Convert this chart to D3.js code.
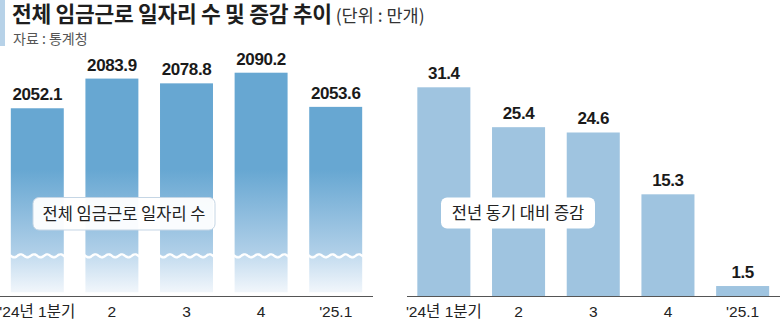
<!DOCTYPE html>
<html><head><meta charset="utf-8">
<script src="https://cdn.jsdelivr.net/npm/d3@7"></script>
<style>
body{margin:0;background:#fff;}
svg{display:block;}
</style></head>
<body>
<svg id="c" width="780" height="323"></svg>
<script>
// ---- data ----
const categories = ["'24년 1분기", "2", "3", "4", "'25.1"];
const totalJobs = [2052.1, 2083.9, 2078.8, 2090.2, 2053.6];   // 만개
const yoyChange = [31.4, 25.4, 24.6, 15.3, 1.5];              // 만개
const titleText = "전체 임금근로 일자리 수 및 증감 추이";
const unitText = "(단위 : 만개)";
const sourceText = "자료 : 통계청";
const leftLabel = "전체 임금근로 일자리 수";
const rightLabel = "전년 동기 대비 증감";

const svg = d3.select("#c");
const numFont = "'Liberation Sans', Arial, sans-serif";
const krFont = "'Noto Sans CJK KR', 'Noto Sans', sans-serif";
const tickFont = "'Liberation Sans Narrow', 'Liberation Sans', 'Noto Sans CJK KR', sans-serif";

// ---- header ----
svg.append("rect").attr("x",0).attr("y",0).attr("width",5).attr("height",46).attr("fill","#b7d2e8");
const t = svg.append("text").attr("x",12).attr("y",21.5)
  .attr("font-family",krFont).attr("fill","#1e1e1e");
t.append("tspan").attr("font-size",21.5).attr("font-weight",700).attr("letter-spacing",-0.3).text(titleText);
t.append("tspan").attr("font-size",17.5).attr("font-weight",400).attr("dx",4).attr("fill","#333").text(unitText);
svg.append("text").attr("x",13).attr("y",44).attr("font-family",krFont)
  .attr("font-size",14).attr("fill","#555").text(sourceText);

// ---- gradients ----
const defs = svg.append("defs");
const baseY = 296;
const gUp = defs.append("linearGradient").attr("id","gUp")
  .attr("gradientUnits","userSpaceOnUse").attr("x1",0).attr("x2",0).attr("y1",170).attr("y2",256);
gUp.append("stop").attr("offset",0).attr("stop-color","#67a7d2");
gUp.append("stop").attr("offset",1).attr("stop-color","#b3d1e9");
const gLow = defs.append("linearGradient").attr("id","gLow")
  .attr("gradientUnits","userSpaceOnUse").attr("x1",0).attr("x2",0).attr("y1",256).attr("y2",292);
gLow.append("stop").attr("offset",0).attr("stop-color","#c4dcef");
gLow.append("stop").attr("offset",1).attr("stop-color","#f1f6fb");

// ---- left chart ----
const xL = d3.scaleBand().domain(categories).range([0,373]).paddingInner(0.29).paddingOuter(0.145);
const yL = d3.scaleLinear().domain([1851, 2090.2]).range([baseY, 72.7]);
const breakVal = 1894;   // axis break (wave) position on the value scale
const barBottomVal = 1855;

const gl = svg.append("g");
gl.selectAll("rect.up").data(totalJobs).join("rect")
  .attr("x",(d,i)=>xL(categories[i])).attr("width",xL.bandwidth())
  .attr("y",d=>yL(d)).attr("height",d=>yL(breakVal)-yL(d))
  .attr("fill","url(#gUp)");
gl.selectAll("rect.low").data(totalJobs).join("rect")
  .attr("x",(d,i)=>xL(categories[i])).attr("width",xL.bandwidth())
  .attr("y",yL(breakVal)).attr("height",yL(barBottomVal)-yL(breakVal))
  .attr("fill","url(#gLow)");
// wave break
const wave = d3.line().curve(d3.curveBasis);
gl.selectAll("path.wave").data(categories).join("path")
  .attr("d",c=>{
    const x0 = xL(c), w = xL.bandwidth(), pts=[];
    for(let k=0;k<=48;k++){ const x = x0 - 1 + (w+2)*k/48; pts.push([x, yL(breakVal) + 1.6*Math.sin((x-x0)/w*Math.PI*8)]); }
    return wave(pts);
  })
  .attr("fill","none").attr("stroke","#fff").attr("stroke-width",2.4);

gl.selectAll("text.val").data(totalJobs).join("text")
  .attr("x",(d,i)=>xL(categories[i])+xL.bandwidth()/2).attr("y",d=>yL(d)-8)
  .attr("text-anchor","middle").attr("font-family",numFont).attr("font-weight",700)
  .attr("font-size",17).attr("letter-spacing",-0.4).attr("fill","#1a1a1a").text(d=>d.toFixed(1));

const axL = gl.append("g").attr("transform",`translate(0,${baseY})`)
  .call(d3.axisBottom(xL).tickSize(0).tickPadding(10).tickSizeOuter(0));
axL.select(".domain").attr("stroke","#555").attr("d","M0,0.5H373");
axL.selectAll("text").attr("font-family",tickFont).attr("font-size",15.5).attr("fill","#222");

// label box left
gl.append("rect").attr("x",33).attr("y",197.5).attr("width",182).attr("height",32.5).attr("rx",6)
  .attr("fill","#fff").attr("fill-opacity",0.95).attr("stroke","#c5d6e5").attr("stroke-width",1);
gl.append("text").attr("x",124).attr("y",219.5).attr("text-anchor","middle")
  .attr("font-family",krFont).attr("font-size",16.5).attr("fill","#222").text(leftLabel);

// ---- right chart ----
const xR = d3.scaleBand().domain(categories).range([406.5,780]).paddingInner(0.29).paddingOuter(0.145);
const yR = d3.scaleLinear().domain([0, 31.4]).range([baseY, 87.3]);
const gr = svg.append("g");
gr.selectAll("rect").data(yoyChange).join("rect")
  .attr("x",(d,i)=>xR(categories[i])).attr("width",xR.bandwidth())
  .attr("y",d=>yR(d)).attr("height",d=>yR(0)-yR(d))
  .attr("fill","#9fc4e0");
gr.selectAll("text.val").data(yoyChange).join("text")
  .attr("x",(d,i)=>xR(categories[i])+xR.bandwidth()/2).attr("y",d=>yR(d)-8)
  .attr("text-anchor","middle").attr("font-family",numFont).attr("font-weight",700)
  .attr("font-size",17).attr("letter-spacing",-0.4).attr("fill","#1a1a1a").text(d=>d.toFixed(1));
const axR = gr.append("g").attr("transform",`translate(0,${baseY})`)
  .call(d3.axisBottom(xR).tickSize(0).tickPadding(10).tickSizeOuter(0));
axR.select(".domain").attr("stroke","#555");
axR.selectAll("text").attr("font-family",tickFont).attr("font-size",15.5).attr("fill","#222");

gr.append("rect").attr("x",441).attr("y",197.5).attr("width",154).attr("height",31).attr("rx",6)
  .attr("fill","#fff");
gr.append("text").attr("x",518).attr("y",219).attr("text-anchor","middle")
  .attr("font-family",krFont).attr("font-size",16.5).attr("fill","#222").text(rightLabel);
</script>
</body></html>
